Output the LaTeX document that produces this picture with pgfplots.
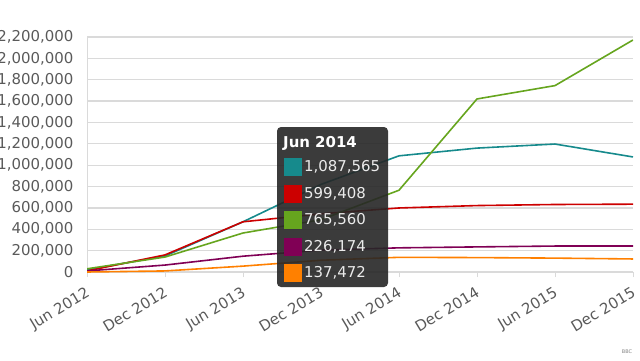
\documentclass[border=0pt]{standalone}
\usepackage{pgfplots}
\pgfplotsset{compat=1.18}
\usepackage{fontspec}
\setmainfont{DejaVu Sans}
\definecolor{cteal}{RGB}{22,138,140}
\definecolor{cred}{RGB}{204,0,0}
\definecolor{cgreen}{RGB}{102,165,30}
\definecolor{cpurple}{RGB}{128,0,85}
\definecolor{corange}{RGB}{255,128,0}
\definecolor{tickgray}{RGB}{90,90,90}
\definecolor{gridgray}{RGB}{218,218,218}
\begin{document}
\begin{tikzpicture}[x=1bp,y=1bp]
\useasboundingbox (0,0) rectangle (640,360);
\begin{axis}[
  at={(87bp,88bp)}, anchor=south west,
  width=546bp, height=235bp, scale only axis,
  xmin=0, xmax=7, ymin=0, ymax=2200000,
  xtick={0,1,2,3,4,5,6,7},
  xticklabels={Jun 2012,Dec 2012,Jun 2013,Dec 2013,Jun 2014,Dec 2014,Jun 2015,Dec 2015},
  ytick={0,200000,400000,600000,800000,1000000,1200000,1400000,1600000,1800000,2000000,2200000},
  scaled y ticks=false,
  /pgf/number format/.cd, 1000 sep={,}, fixed, precision=0, assume math mode=true,
  /pgfplots/.cd,
  ymajorgrids, grid style={gridgray, line width=1.2bp},
  axis x line*=bottom, axis y line*=left,
  axis line style={gridgray, line width=1bp},
  x axis line style={-}, y axis line style={-},
  ytick style={draw=none},
  xtick style={gridgray, line width=1bp},
  tick align=outside, major tick length=5bp,
  yticklabel style={font=\fontsize{15}{17}\selectfont, text=tickgray, xshift=-5bp},
  xticklabel style={font=\fontsize{15}{17}\selectfont, text=tickgray, rotate=31, anchor=north east, xshift=-3bp, yshift=-3bp},
  every axis plot/.append style={line width=1.6bp, mark=none},
]
\addplot[cteal] coordinates {(0,20000) (1,150000) (2,470000) (3,820000) (4,1087565) (5,1160000) (6,1198000) (7,1077000)};
\addplot[cred] coordinates {(0,10000) (1,160000) (2,470000) (3,545000) (4,599408) (5,622000) (6,632000) (7,635000)};
\addplot[cgreen] coordinates {(0,30000) (1,140000) (2,365000) (3,490000) (4,765560) (5,1620000) (6,1745000) (7,2172000)};
\addplot[cpurple] coordinates {(0,10000) (1,65000) (2,148000) (3,205000) (4,226174) (5,235000) (6,243000) (7,243000)};
\addplot[corange] coordinates {(0,0) (1,10000) (2,55000) (3,110000) (4,137472) (5,135000) (6,130000) (7,122000)};
\end{axis}
% tooltip
\fill[rounded corners=4bp, fill=black!85, opacity=0.9] (277,73) rectangle (388,233);
\node[anchor=base west, text=white, font=\bfseries\fontsize{15}{17}\selectfont, inner sep=0] at (283,213) {Jun 2014};
\fill[cteal] (284,184) rectangle (302,202);
\fill[cred] (284,157) rectangle (302,175);
\fill[cgreen] (284,131) rectangle (302,149);
\fill[cpurple] (284,104) rectangle (302,122);
\fill[corange] (284,78) rectangle (302,96);
\begin{scope}[every node/.style={anchor=west, text=white!92!black, font=\fontsize{15}{17}\selectfont, inner sep=0}]
\node at (304,193) {1,087,565};
\node at (304,166) {599,408};
\node at (304,140) {765,560};
\node at (304,113) {226,174};
\node at (304,87) {137,472};
\end{scope}
\node[font=\fontsize{5}{6}\selectfont, text=gray] at (627,8) {BBC};
\end{tikzpicture}
\end{document}
